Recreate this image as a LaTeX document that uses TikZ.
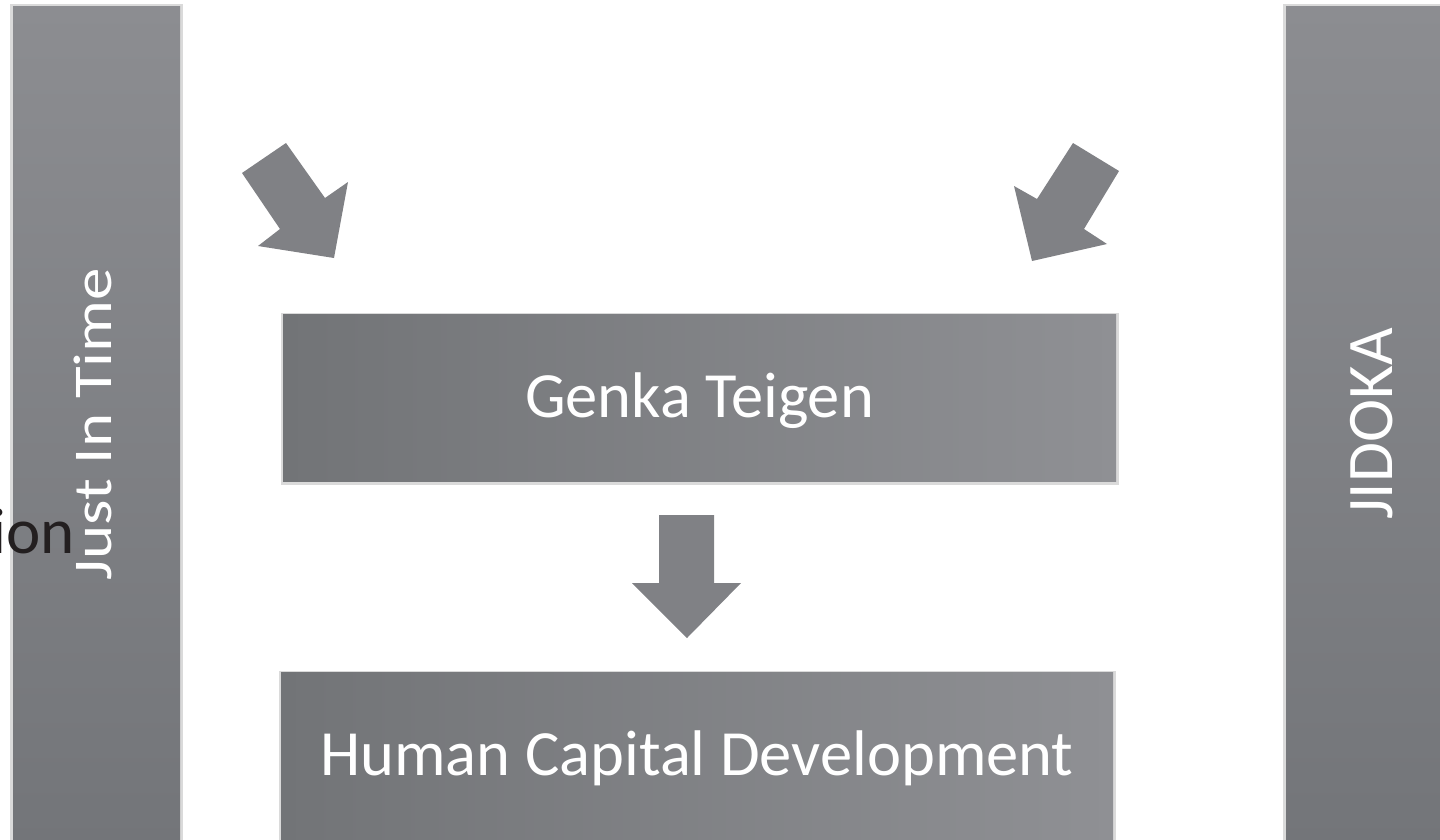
\documentclass[tikz,border=0pt]{standalone}
\usepackage{fontspec}
\setmainfont{Carlito}
\usetikzlibrary{positioning}
\definecolor{bartop}{HTML}{8C8D91}
\definecolor{barbottom}{HTML}{737579}
\definecolor{boxleft}{HTML}{727477}
\definecolor{boxright}{HTML}{8F9094}
\definecolor{arrowgray}{HTML}{808185}
\definecolor{rimgray}{HTML}{DADADA}
\definecolor{inkblack}{HTML}{231F20}
\begin{document}
\begin{tikzpicture}[x=1pt, y=-1pt,
                          bar/.style={top color=bartop, bottom color=barbottom},
                          rim/.style={fill=rimgray},
                          pointer/.style={fill=arrowgray},
                          stage/.style={left color=boxleft, right color=boxright, text=white,
                              inner sep=0pt, minimum width=833pt, minimum height=167pt,
                              text height=40pt, text depth=0pt,
                              font=\fontsize{64.5}{70}\selectfont,
                              preaction={draw=rimgray, line width=5pt, transform canvas={yshift=-1.5pt}}},
                          pillar/.style={text=white, rotate=90, anchor=base, inner sep=0pt,
                              font=\fontsize{65}{70}\selectfont}]
                          \useasboundingbox (0,0) rectangle (1440,839);
                          \fill[white] (0,0) rectangle (1440,839);
                          \fill[rim] (10,4) rectangle (183,845);
                          \fill[bar] (13,6) rectangle (180,845);
                          \fill[rim] (1283,4) rectangle (1445,845);
                          \fill[bar] (1286,6) rectangle (1445,845);
                          \node[stage] (genka) at (699.5,397.5) {Genka Teigen};
                          \node[stage, minimum width=832pt] (human) at (697,755.5) {Human Capital Development};
                          \fill[pointer] (286,143) -- (325,198) -- (348,182) -- (334,258) -- (258,246) -- (280,229) -- (242,173) -- cycle;
                          \fill[pointer] (1073,143) -- (1119,171) -- (1084,229) -- (1107,244) -- (1032,261) -- (1014,186) -- (1037,199) -- cycle;
                          \fill[pointer] (659,515) -- (714,515) -- (714,583) -- (741,583) -- (687,638) -- (632,583) -- (659,583) -- cycle;
                          \node[pillar] (jit) at (111,424) {\scalebox{1}[0.84]{Just In Time}};
                          \node[pillar] (jidoka) at (1392,424) {JIDOKA};
                          \node[anchor=base east, inner sep=0pt, text=inkblack,
                              font=\fontsize{65}{70}\selectfont] (cutoff) at (75,553) {ion};
                      \end{tikzpicture}
\end{document}
